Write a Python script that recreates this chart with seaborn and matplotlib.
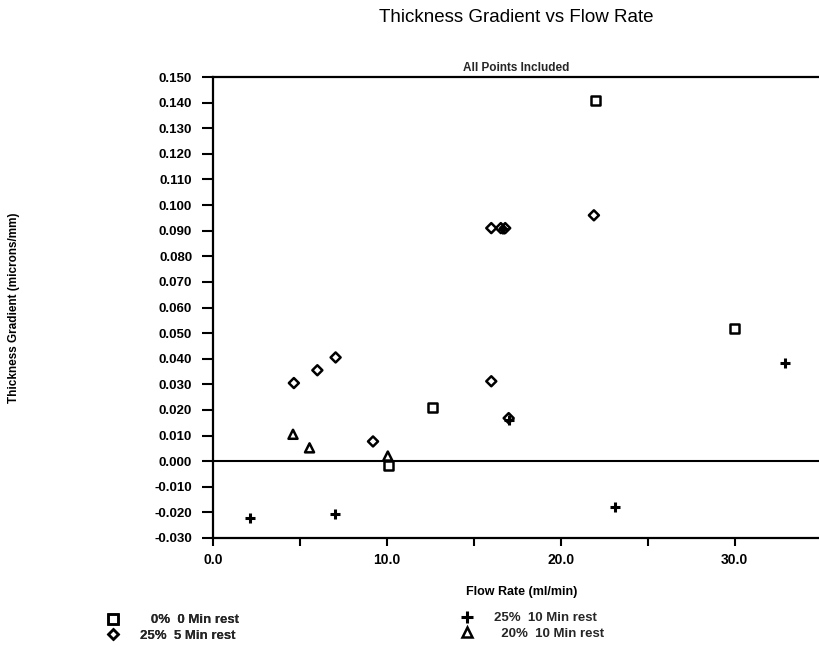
import matplotlib
matplotlib.use("Agg")
import matplotlib.pyplot as plt
import seaborn as sns
from matplotlib.lines import Line2D
from matplotlib.ticker import MultipleLocator, FormatStrFormatter

# ---- data ----
series_names = ["0%  0 Min rest", "25%  5 Min rest", "25%  10 Min rest", "20%  10 Min rest"]

sq_x = [10.1, 12.6, 22.0, 30.0]
sq_y = [-0.0016, 0.0210, 0.1410, 0.0518]

dm_x = [4.65, 6.0, 7.05, 9.2, 16.0, 16.55, 16.8, 16.0, 17.0, 21.9]
dm_y = [0.0305, 0.0355, 0.0405, 0.0077, 0.0910, 0.0910, 0.0910, 0.0312, 0.0168, 0.0960]

pl_x = [2.1, 7.0, 16.7, 17.0, 23.1, 32.9]
pl_y = [-0.0220, -0.0207, 0.0908, 0.0160, -0.0178, 0.0382]

tr_x = [4.6, 5.55, 10.05]
tr_y = [0.0105, 0.0052, 0.0020]

x_ticks = [0, 10, 20, 30]
x_tick_labels = ["0.0", "10.0", "20.0", "30.0"]

sns.set_theme(style="white")
plt.rcParams["font.family"] = ["Liberation Sans", "DejaVu Sans"]

fig = plt.figure(figsize=(8.2, 6.47), dpi=100)
ax = fig.add_axes([213 / 820, 1 - 538 / 647, 607 / 820, (538 - 77) / 647])

lw = 1.8
sns.scatterplot(x=sq_x, y=sq_y, marker="s", s=42, color="black",
                facecolor="none", edgecolor="black", linewidth=lw, ax=ax, zorder=3)
sns.scatterplot(x=dm_x, y=dm_y, marker="D", s=26, color="black",
                facecolor="none", edgecolor="black", linewidth=lw, ax=ax, zorder=3)
sns.scatterplot(x=pl_x, y=pl_y, marker="+", s=60, color="black",
                linewidth=2.2, ax=ax, zorder=3)
sns.scatterplot(x=tr_x, y=tr_y, marker="^", s=42, color="black",
                facecolor="none", edgecolor="black", linewidth=lw, ax=ax, zorder=3)

ax.set_xlim(0, 34.9)
ax.set_ylim(-0.030, 0.150)
ax.axhline(0, color="black", linewidth=1.5, zorder=2)

ax.yaxis.set_major_locator(MultipleLocator(0.01))
ax.yaxis.set_major_formatter(FormatStrFormatter("%.3f"))
ax.set_xticks(x_ticks)
ax.set_xticklabels(x_tick_labels)
ax.xaxis.set_minor_locator(MultipleLocator(5))

for side in ["left", "top", "bottom"]:
    ax.spines[side].set_visible(True)
    ax.spines[side].set_color("black")
    ax.spines[side].set_linewidth(1.6)
ax.spines["right"].set_visible(False)

ax.tick_params(axis="y", which="major", direction="out", length=8, width=1.5,
               pad=7, labelsize=9.5, left=True, colors="black")
ax.tick_params(axis="x", which="both", direction="out", length=6, width=1.5,
               pad=5, labelsize=10, bottom=True, colors="black")
for lab in ax.get_yticklabels() + ax.get_xticklabels():
    lab.set_fontweight("bold")

ax.set_xlabel("Flow Rate (ml/min)", fontsize=9, fontweight="bold", color="black")
ax.xaxis.set_label_coords((522 - 213) / 607, (538 - 586) / 461)
ax.set_ylabel("Thickness Gradient (microns/mm)", fontsize=8.5, fontweight="bold", color="black")
ax.yaxis.set_label_coords((20 - 213) / 607, 0.5)
ax.set_title("All Points Included", fontsize=8.5, fontweight="bold", pad=4)

fig.text(516.5 / 820, 1 - 17 / 647, "Thickness Gradient vs Flow Rate",
         ha="center", va="center", fontsize=13.5, color="black")

def mk(m, ms):
    return Line2D([], [], linestyle="none", marker=m, markersize=ms,
                  markerfacecolor="none", markeredgecolor="black",
                  markeredgewidth=1.8 if m != "+" else 2.2, color="black")

left = fig.legend(handles=[mk("s", 6.5), mk("D", 5)],
                  labels=["   0%  0 Min rest", "25%  5 Min rest"],
                  loc="upper left", bbox_to_anchor=(96 / 820, 1 - 605 / 647),
                  frameon=False, prop={"weight": "bold", "size": 9.5},
                  handletextpad=1.4, labelspacing=0.25, handlelength=1.2,
                  borderpad=0.2)
fig.add_artist(left)
fig.legend(handles=[mk("+", 8), mk("^", 6.5)],
           labels=["25%  10 Min rest", "  20%  10 Min rest"],
           loc="upper left", bbox_to_anchor=(450 / 820, 1 - 603 / 647),
           frameon=False, prop={"weight": "bold", "size": 9.5},
           handletextpad=1.4, labelspacing=0.25, handlelength=1.2,
           borderpad=0.2)

fig.savefig("out.png", dpi=100)
